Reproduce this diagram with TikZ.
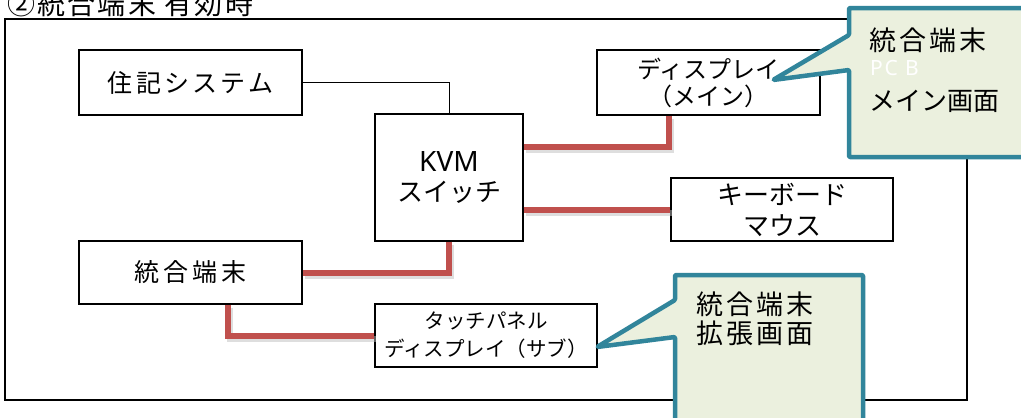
\documentclass[tikz,border=0pt]{standalone}
\usepackage{fontspec}
\setmainfont{Noto Sans CJK JP}
\newfontfamily\latinsans{Noto Sans}
\definecolor{redline}{RGB}{192,80,77}
\definecolor{teal}{RGB}{49,133,155}
\definecolor{calloutfill}{RGB}{235,240,222}
\tikzset{
  box/.style={draw=black, line width=1.4pt, fill=white, inner sep=0pt, align=center},
  plain/.style={draw=black, line width=1pt},
  redconn/.style={draw=redline, line width=6pt, line join=miter},
  shadowconn/.style={draw=black!25, line width=6pt, opacity=0.5},
  callout/.style={draw=teal, fill=calloutfill, line width=4.5pt, line join=round, rounded corners=1pt},
  ctext/.style={anchor=west, align=left, inner sep=0pt, font=\fontsize{27}{30}\selectfont\addfontfeatures{LetterSpace=12}},
}
\begin{document}
\begin{tikzpicture}[x=1pt,y=-1pt]
\useasboundingbox (0,0) rectangle (1021,418);
\clip (0,0) rectangle (1021,418);
\fill[white] (0,0) rectangle (1021,418);
% title
\node[anchor=base west, inner sep=0pt, font=\fontsize{28}{28}\selectfont\addfontfeatures{LetterSpace=8}] (title) at (7,14) {②統合端末 有効時};
% frame
\draw[line width=1.4pt] (5,19) rectangle (967,400);
% boxes
\node[box, minimum width=223pt, minimum height=65pt, font=\fontsize{25}{28}\selectfont\addfontfeatures{LetterSpace=13}] (juki) at (190.5,82.5) {住記システム};
\node[box, minimum width=223pt, minimum height=65pt, font=\fontsize{24}{27}\selectfont] (dmain) at (708.5,82.5) {ディスプレイ\\（メイン）};
\node[box, minimum width=148pt, minimum height=127pt, font=\fontsize{26}{30}\selectfont] (kvm) at (449,177.5) {{\latinsans\fontsize{28}{30}\selectfont KVM}\\スイッチ};
\node[box, minimum width=222pt, minimum height=63pt, font=\fontsize{26}{31}\selectfont] (kbd) at (782,209.5) {キーボード\\マウス};
\node[box, minimum width=223pt, minimum height=63pt, font=\fontsize{25}{28}\selectfont\addfontfeatures{LetterSpace=15}] (togo) at (190.5,272.5) {統合端末};
\node[box, minimum width=222pt, minimum height=63pt, font=\fontsize{20.5}{28}\selectfont] (touch) at (486,335.5) {タッチパネル\\ディスプレイ（サブ）};
% connectors
\draw[plain] (juki.east) -| (kvm.north);
\begin{scope}[transform canvas={xshift=2pt,yshift=-3pt}]
\draw[shadowconn] ([yshift=31pt]kvm.east) -| ([xshift=-39.5pt]dmain.south);
\draw[shadowconn] (kvm.east |- kbd.west) -- (kbd.west);
\draw[shadowconn] (kvm.south) |- (togo.east);
\draw[shadowconn] ([xshift=37pt]togo.south) |- (touch.west);
\end{scope}
\draw[redconn] ([yshift=31pt]kvm.east) -| ([xshift=-39.5pt]dmain.south);
\draw[redconn] (kvm.east |- kbd.west) -- (kbd.west);
\draw[redconn] (kvm.south) |- (togo.east);
\draw[redconn] ([xshift=37pt]togo.south) |- (touch.west);
% callout 1
\coordinate (tip1) at (773,80);
\draw[callout] (849,8) -- (1040,8) -- (1040,157) -- (849,157) -- (849,70) -- (tip1) -- (849,35) -- cycle;
\node[ctext] (c1a) at (869,40) {統合端末};
\node[ctext, text=white, font=\latinsans\fontsize{21}{21}\selectfont\addfontfeatures{LetterSpace=8}] (c1b) at (870,68) {PC B};
\node[ctext, font=\fontsize{26}{30}\selectfont] (c1c) at (869,101) {メイン画面};
% callout 2
\coordinate (tip2) at (597,347);
\draw[callout] (675,275) -- (863,275) -- (863,440) -- (675,440) -- (675,337) -- (tip2) -- (675,300) -- cycle;
\node[ctext] (c2a) at (696,304) {統合端末};
\node[ctext] (c2b) at (696,333) {拡張画面};
\end{tikzpicture}
\end{document}
